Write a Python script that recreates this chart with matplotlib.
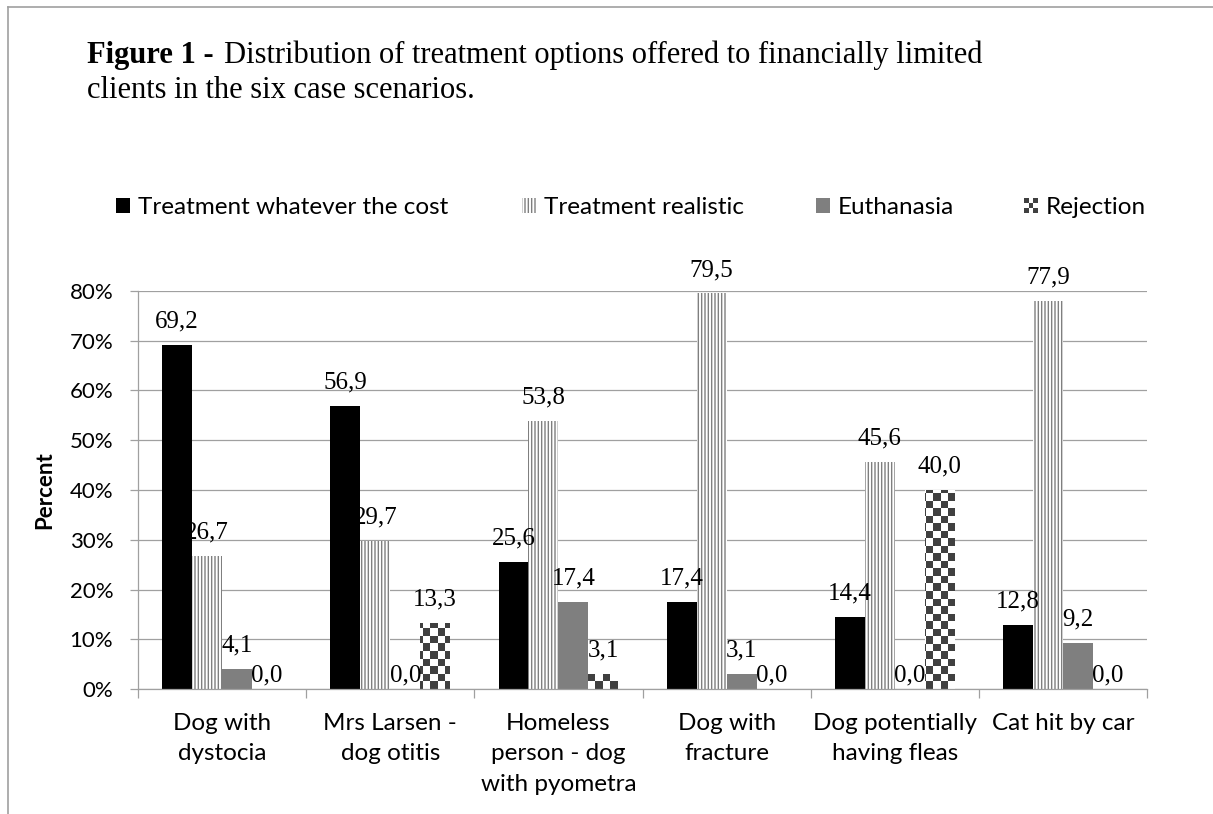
import numpy as np
import matplotlib
matplotlib.use("Agg")
import matplotlib.pyplot as plt
from matplotlib.patches import Rectangle, Patch
from matplotlib.legend_handler import HandlerBase
from matplotlib.colors import ListedColormap
from matplotlib.lines import Line2D

# ---- data ----
categories = ["Dog with\ndystocia", "Mrs Larsen -\ndog otitis", "Homeless\nperson - dog\nwith pyometra",
              "Dog with\nfracture", "Dog potentially\nhaving fleas", "Cat hit by car"]
series_names = ["Treatment whatever the cost", "Treatment realistic", "Euthanasia", "Rejection"]
whatever_cost = [69.2, 56.9, 25.6, 17.4, 14.4, 12.8]
realistic = [26.7, 29.7, 53.8, 79.5, 45.6, 77.9]
euthanasia = [4.1, 0.0, 17.4, 3.1, 0.0, 9.2]
rejection = [0.0, 13.3, 3.1, 0.0, 40.0, 0.0]
yticks = [0, 10, 20, 30, 40, 50, 60, 70, 80]

W, H = 1213, 814
fig = plt.figure(figsize=(W / 100, H / 100), dpi=100)
fig.patch.set_facecolor("white")

SANS = ["Lato", "DejaVu Sans"]
SERIF = ["Liberation Serif", "DejaVu Serif"]
GRID = "#a0a0a0"
DARK = "#404040"
MID = "#7f7f7f"

# figure frame (left and top lines)
fig.add_artist(Line2D([7.5 / W, 7.5 / W], [0, 1 - 7 / H], transform=fig.transFigure, color=GRID, lw=1.2))
fig.add_artist(Line2D([7.5 / W, 1], [1 - 7 / H, 1 - 7 / H], transform=fig.transFigure, color=GRID, lw=1.2))

# title
TS = 22
t1 = fig.text(87 / W, 1 - 63 / H, "Figure 1 -", fontfamily=SERIF, fontsize=TS, fontweight="bold",
              va="baseline", ha="left")
fig.canvas.draw()
ex = t1.get_window_extent()
fig.text((ex.x1 + 10) / W, 1 - 63 / H, "Distribution of treatment options offered to financially limited",
         fontfamily=SERIF, fontsize=TS, va="baseline", ha="left")
fig.text(87 / W, 1 - 98 / H, "clients in the six case scenarios.", fontfamily=SERIF, fontsize=TS,
         va="baseline", ha="left")

# axes
x0, x1 = 138 / W, 1147 / W
y0, y1 = 1 - 689 / H, 1 - 291 / H
ax = fig.add_axes([x0, y0, x1 - x0, y1 - y0])
ax.set_xlim(-0.5, len(categories) - 0.5)
ax.set_ylim(0, 80)

for s in ["top", "right"]:
    ax.spines[s].set_visible(False)
for s in ["left", "bottom"]:
    ax.spines[s].set_color(GRID)
    ax.spines[s].set_linewidth(0.9)

ax.set_yticks(yticks)
ax.set_yticklabels([f"{v}%" for v in yticks], fontfamily=SANS, fontsize=16)
ax.yaxis.grid(True, color=GRID, lw=0.9)
ax.set_axisbelow(True)
ax.tick_params(axis="y", length=5.8, width=0.9, color=GRID, pad=12)

xc = np.arange(len(categories))
ax.set_xticks(xc)
ax.set_xticklabels(categories, fontfamily=SANS, fontsize=17.5, linespacing=1.56)
ax.set_xticks(np.arange(-0.5, len(categories), 1.0), minor=True)
ax.tick_params(axis="x", which="major", length=0, pad=17)
ax.tick_params(axis="x", which="minor", length=6.5, width=0.9, color=GRID)

fig.text(45 / W, 1 - 490 / H, "Percent", fontfamily=SANS, fontsize=16, fontweight="bold",
         rotation=90, ha="center", va="center")

# bars
bw = 0.178
plt.rcParams["hatch.linewidth"] = 1.0
series = [whatever_cost, realistic, euthanasia, rejection]
offs = [(i - 1.5) * bw for i in range(4)]

b0 = ax.bar(xc + offs[0], whatever_cost, bw, color="black", lw=0, zorder=2)
b1 = ax.bar(xc + offs[1], realistic, bw, facecolor="white", edgecolor=MID, hatch="|||||", lw=0, zorder=2)
b2 = ax.bar(xc + offs[2], euthanasia, bw, color=MID, lw=0, zorder=2)
b3 = ax.bar(xc + offs[3], rejection, bw, facecolor="white", lw=0, zorder=2)

# checker fill for rejection bars
axw_px = (x1 - x0) * W
axh_px = (y1 - y0) * H
cell = 7.5
dx = cell / (axw_px / len(categories))
dy = cell / (axh_px / 80)
nx = int(np.ceil(len(categories) / dx)) + 1
ny = int(np.ceil(80 / dy)) + 1
checker = (np.add.outer(np.arange(ny), np.arange(nx)) % 2).astype(float)
cmap = ListedColormap(["white", DARK])
for rect in b3.patches:
    if rect.get_height() <= 0:
        continue
    im = ax.imshow(checker, extent=(-0.5, -0.5 + nx * dx, 0, ny * dy), origin="lower", cmap=cmap,
                   interpolation="nearest", aspect="auto", zorder=2.5, vmin=0, vmax=1)
    im.set_clip_path(rect)
ax.set_xlim(-0.5, len(categories) - 0.5)
ax.set_ylim(0, 80)

# data labels
for bars, vals in zip([b0, b1, b2, b3], series):
    for rect, v in zip(bars.patches, vals):
        off = 9 if v > 0 else 2
        ax.annotate(f"{v:.1f}".replace(".", ","), (rect.get_x() + rect.get_width() / 2, v),
                    xytext=(0, off), textcoords="offset points", ha="center", va="bottom",
                    fontfamily=SERIF, fontsize=18, zorder=5, annotation_clip=False)


# legend
class CheckerHandler(HandlerBase):
    def create_artists(self, legend, orig_handle, xdescent, ydescent, width, height, fontsize, trans):
        n = 3
        w, h = width / n, height / n
        arts = []
        for i in range(n):
            for j in range(n):
                c = DARK if (i + j) % 2 == 0 else "white"
                arts.append(Rectangle((-xdescent + i * w, -ydescent + j * h), w, h, facecolor=c,
                                      edgecolor="none", transform=trans))
        return arts


handles = [Patch(facecolor="black", lw=0),
           Patch(facecolor="white", edgecolor=MID, hatch="|||||", lw=0),
           Patch(facecolor=MID, lw=0),
           Patch(facecolor="white", lw=0)]
leg_x = [116, 522, 816, 1024]
leg_y = 1 - 208 / H
for hnd, name, lx in zip(handles, series_names, leg_x):
    kw = {}
    if name == "Rejection":
        kw["handler_map"] = {hnd: CheckerHandler()}
    fig.legend([hnd], [name], loc="center left", bbox_to_anchor=(lx / W, leg_y), frameon=False,
               borderpad=0, borderaxespad=0, handlelength=0.58, handleheight=0.58, handletextpad=0.32,
               prop={"family": SANS, "size": 17.5}, **kw)

fig.savefig("out.png", dpi=100, facecolor="white")
